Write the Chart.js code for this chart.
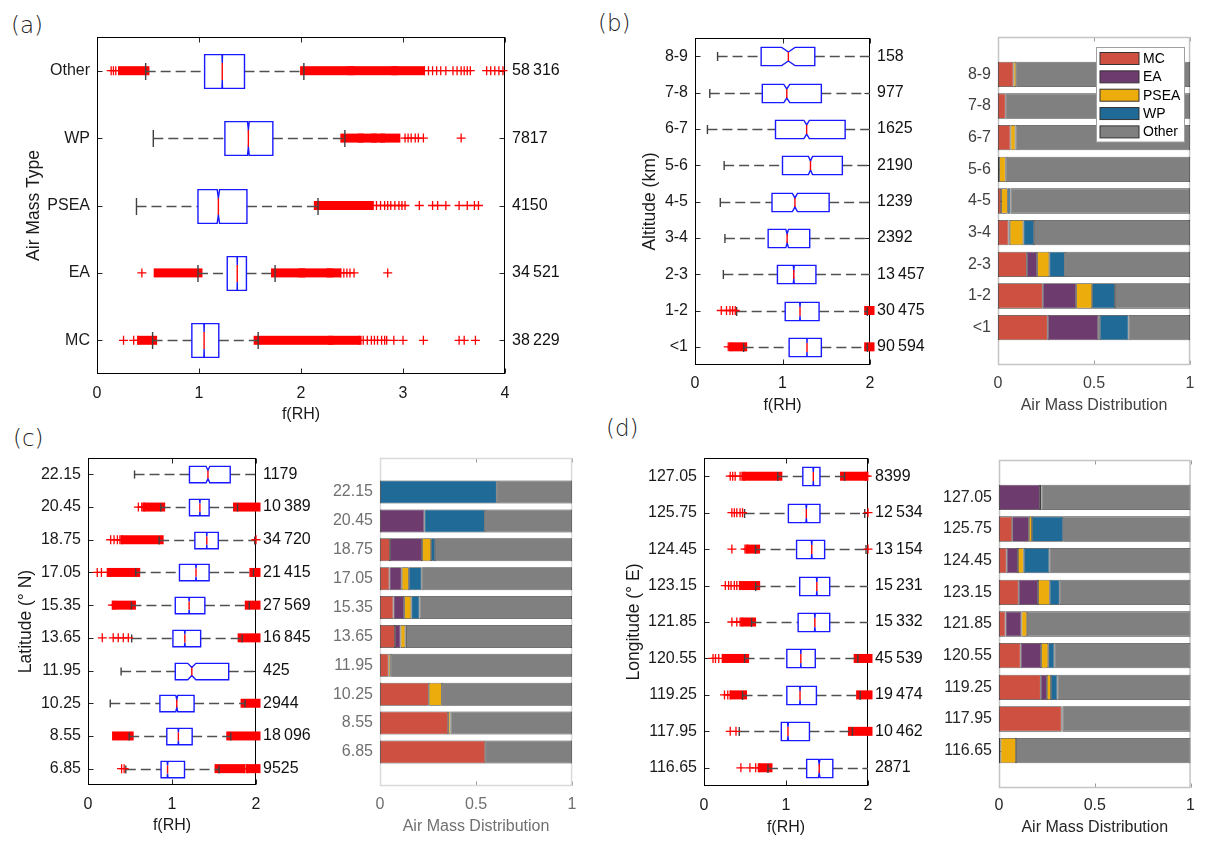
<!DOCTYPE html>
<html><head><meta charset="utf-8">
<script src="https://cdn.jsdelivr.net/npm/chart.js@4.4.1/dist/chart.umd.min.js"></script>
<style>
html,body{margin:0;padding:0;background:#fff;}
#fig{position:relative;width:1210px;height:848px;overflow:hidden;background:#fff;}
.plbl{position:absolute;font-family:'DejaVu Sans',sans-serif;font-weight:200;font-size:23px;line-height:24px;color:#222;}
</style></head><body>
<div id="fig">
<div class="plbl" style="left:11px;top:13px">(a)</div>
<div class="plbl" style="left:598px;top:11px">(b)</div>
<div class="plbl" style="left:13px;top:426px">(c)</div>
<div class="plbl" style="left:606px;top:416px">(d)</div>
</div>
<script>
// ---------------- DATA ----------------
// (a) f(RH) by air mass type (rows top to bottom)
const aTypes = ['Other', 'WP', 'PSEA', 'EA', 'MC'];
const aN     = [58316, 7817, 4150, 34521, 38229];
const aWLo   = [0.477, 0.552, 0.387, 0.990, 0.545];
const aQ1    = [1.055, 1.254, 0.990, 1.277, 0.930];
const aMed   = [1.228, 1.484, 1.190, 1.375, 1.050];
const aQ3    = [1.446, 1.724, 1.470, 1.465, 1.194];
const aWHi   = [2.028, 2.430, 2.167, 1.746, 1.580];
const aOutPts = [
  [0,0.139],[0,0.161],[0,0.184],[0,3.21],[0,3.25],[0,3.29],[0,3.33],[0,3.37],[0,3.42],[0,3.49],[0,3.53],[0,3.57],[0,3.60],[0,3.63],[0,3.66],[0,3.82],[0,3.86],[0,3.90],[0,3.94],[0,3.98],
  [1,3.02],[1,3.05],[1,3.08],[1,3.12],[1,3.15],[1,3.20],[1,3.57],
  [2,2.74],[2,2.78],[2,2.82],[2,2.85],[2,2.88],[2,2.92],[2,2.96],[2,2.99],[2,3.02],[2,3.16],[2,3.29],[2,3.34],[2,3.42],[2,3.55],[2,3.63],[2,3.70],[2,3.74],
  [3,0.44],[3,2.39],[3,2.42],[3,2.45],[3,2.48],[3,2.52],[3,2.85],
  [4,0.26],[4,0.36],[4,0.40],[4,2.57],[4,2.61],[4,2.65],[4,2.69],[4,2.72],[4,2.75],[4,2.79],[4,2.82],[4,2.84],[4,2.91],[4,3.00],[4,3.20],[4,3.55],[4,3.60],[4,3.71]
];
const aOutBands = [
  [0,0.25,0.47],[0,2.035,2.48],[0,2.50,2.91],[0,2.93,3.17],
  [1,2.43,2.57],[1,2.60,2.70],[1,2.73,2.78],[1,2.82,2.93],
  [2,2.17,2.35],[2,2.37,2.46],[2,2.48,2.55],[2,2.57,2.67],
  [3,0.60,0.99],[3,1.75,2.00],[3,2.02,2.27],[3,2.29,2.35],
  [4,0.44,0.545],[4,1.58,2.27],[4,2.31,2.55]
];

// (b) altitude
const bAlt  = ['8-9', '7-8', '6-7', '5-6', '4-5', '3-4', '2-3', '1-2', '<1'];
const bN    = [158, 977, 1625, 2190, 1239, 2392, 13457, 30475, 90594];
const bWLo  = [0.258, 0.169, 0.142, 0.333, 0.289, 0.342, 0.324, 0.476, 0.556];
const bQ1   = [0.756, 0.769, 0.920, 1.000, 0.880, 0.836, 0.942, 1.031, 1.076];
const bMed  = [1.067, 1.049, 1.276, 1.320, 1.142, 1.053, 1.129, 1.200, 1.280];
const bQ3   = [1.369, 1.444, 1.716, 1.684, 1.533, 1.311, 1.382, 1.418, 1.444];
const bWHi  = [2.10, 2.10, 2.10, 2.10, 2.10, 2.10, 2.10, 1.97, 1.97];
const bOutPts = [[7,0.30],[7,0.36],[7,0.40],[7,0.43],[7,0.46],[8,0.38],[8,0.42]];
const bOutBands = [[7,1.985,2.0],[8,0.44,0.545],[8,1.985,2.0]];
const bMC    = [0.081, 0.040, 0.065, 0.006, 0.016, 0.055, 0.150, 0.233, 0.259];
const bEA    = [0, 0, 0, 0, 0, 0.006, 0.054, 0.174, 0.263];
const bPSEA  = [0.014, 0, 0.026, 0.034, 0.035, 0.071, 0.063, 0.083, 0.008];
const bWP    = [0, 0, 0, 0, 0.014, 0.056, 0.081, 0.119, 0.150];
const bOther = [0.905, 0.960, 0.909, 0.960, 0.935, 0.812, 0.652, 0.391, 0.320];

// (c) latitude
const cLat  = ['22.15', '20.45', '18.75', '17.05', '15.35', '13.65', '11.95', '10.25', '8.55', '6.85'];
const cN    = [1179, 10389, 34720, 21415, 27569, 16845, 425, 2944, 18096, 9525];
const cWLo  = [0.554, 0.865, 0.847, 0.568, 0.517, 0.520, 0.394, 0.265, 0.490, 0.450];
const cQ1   = [1.208, 1.208, 1.272, 1.089, 1.039, 1.011, 1.039, 0.856, 0.938, 0.870];
const cMed  = [1.428, 1.332, 1.414, 1.286, 1.204, 1.153, 1.236, 1.057, 1.076, 0.947];
const cQ3   = [1.693, 1.442, 1.551, 1.442, 1.391, 1.341, 1.675, 1.263, 1.240, 1.149];
const cWHi  = [2.10, 1.780, 1.985, 1.970, 1.920, 1.835, 2.10, 1.870, 1.700, 1.560];
const cOutPts = [
  [1,0.60],[1,0.64],[1,0.67],
  [2,0.27],[2,0.31],[2,0.35],[2,0.38],[2,0.41],[2,2.0],
  [3,0.11],[3,0.16],[3,0.23],[3,0.27],
  [4,0.29],[4,0.32],
  [5,0.17],[5,0.30],[5,0.36],[5,0.42],[5,0.48],
  [9,0.40],[9,0.43],[9,1.86],[9,1.90]
];
const cOutBands = [
  [1,0.70,0.865],[1,1.78,2.0],
  [2,0.44,0.847],
  [3,0.29,0.568],[3,1.975,2.0],
  [4,0.34,0.517],[4,1.92,2.0],
  [5,1.835,2.0],
  [7,1.87,2.0],
  [8,0.34,0.49],[8,1.70,2.0],
  [9,1.56,1.82],[9,1.93,2.0]
];
const cMC    = [0, 0, 0.052, 0.049, 0.070, 0.078, 0.045, 0.254, 0.355, 0.548];
const cEA    = [0, 0.231, 0.167, 0.064, 0.056, 0.029, 0, 0, 0, 0];
const cPSEA  = [0, 0, 0.047, 0.037, 0.037, 0.025, 0.011, 0.068, 0.012, 0];
const cWP    = [0.608, 0.315, 0.021, 0.067, 0.043, 0.004, 0, 0, 0, 0];
const cOther = [0.392, 0.454, 0.713, 0.783, 0.794, 0.864, 0.944, 0.678, 0.633, 0.452];

// (d) longitude
const dLon  = ['127.05', '125.75', '124.45', '123.15', '121.85', '120.55', '119.25', '117.95', '116.65'];
const dN    = [8399, 12534, 13154, 15231, 15332, 45539, 19474, 10462, 2871];
const dWLo  = [0.900, 0.495, 0.629, 0.630, 0.580, 0.495, 0.470, 0.430, 0.780];
const dQ1   = [1.205, 1.029, 1.129, 1.167, 1.148, 1.010, 1.010, 0.943, 1.252];
const dMed  = [1.333, 1.248, 1.314, 1.376, 1.352, 1.181, 1.171, 1.024, 1.405];
const dQ3   = [1.414, 1.414, 1.471, 1.533, 1.533, 1.357, 1.371, 1.286, 1.571];
const dWHi  = [1.714, 1.960, 1.976, 2.10, 2.10, 1.876, 1.905, 1.810, 2.10];
const dOutPts = [
  [0,0.32],[0,0.35],[0,0.38],[0,0.44],[0,0.49],[0,1.97],[0,1.99],
  [1,0.34],[1,0.37],[1,0.40],[1,0.44],[1,0.47],[1,2.0],
  [2,0.34],[2,0.50],[2,0.53],[2,2.0],
  [3,0.26],[3,0.30],[3,0.33],[3,0.37],[3,0.40],[3,0.44],
  [4,0.34],[4,0.40],[4,0.44],[4,0.47],
  [5,0.11],[5,0.14],[5,0.18],
  [6,0.25],[6,0.29],[6,0.32],
  [7,0.32],[7,0.39],
  [8,0.45],[8,0.56],[8,0.63],[8,0.68]
];
const dOutBands = [
  [0,0.51,0.90],[0,1.714,1.95],
  [2,0.56,0.629],
  [3,0.48,0.63],
  [4,0.50,0.58],
  [5,0.27,0.495],[5,1.88,2.0],
  [6,0.37,0.47],[6,1.91,2.0],
  [7,1.81,2.0],
  [8,0.71,0.78]
];
const dMC    = [0, 0.069, 0.040, 0.103, 0.034, 0.113, 0.218, 0.327, 0.008];
const dEA    = [0.214, 0.087, 0.059, 0.101, 0.083, 0.107, 0.032, 0.004, 0];
const dPSEA  = [0.008, 0.016, 0.030, 0.061, 0.030, 0.037, 0.021, 0, 0.081];
const dWP    = [0, 0.163, 0.134, 0.052, 0, 0.032, 0.034, 0, 0];
const dOther = [0.778, 0.665, 0.737, 0.683, 0.853, 0.711, 0.695, 0.669, 0.911];

const massNames  = ['MC', 'EA', 'PSEA', 'WP', 'Other'];
const massColors = ['#CD5040', '#6E3B6E', '#ECAC0C', '#1F6A97', '#808080'];

// ---------------- RENDERING ----------------
Chart.defaults.font.family = "'Liberation Sans', Arial, Helvetica, sans-serif";
Chart.defaults.font.size = 16;
Chart.defaults.color = '#1a1a1a';
const fig = document.getElementById('fig');

function makeCanvas(area, pad) {
  const w = area.r - area.l + pad.l + pad.r;
  const h = area.b - area.t + pad.t + pad.b;
  const c = document.createElement('canvas');
  c.width = w; c.height = h;
  c.style.cssText = `position:absolute;left:${area.l - pad.l}px;top:${area.t - pad.t}px;width:${w}px;height:${h}px;`;
  fig.appendChild(c);
  return c;
}
function fmtN(n) {
  const s = String(n);
  return n >= 10000 ? s.slice(0, -3) + '\u2009' + s.slice(-3) : s;
}

const framePlugin = {
  id: 'frame',
  beforeDatasetsDraw(chart, args, o) {
    const {ctx, chartArea: ca, scales: {x, y}} = chart;
    const L = ca.left + 0.5, R = ca.right - 0.5, T = ca.top + 0.5, B = ca.bottom - 0.5;
    ctx.save();
    ctx.strokeStyle = o.tick; ctx.lineWidth = 1;
    ctx.beginPath();
    x.ticks.forEach(t => {
      const p = Math.round(x.getPixelForValue(t.value)) + 0.5;
      ctx.moveTo(p, B); ctx.lineTo(p, B - o.len);
      ctx.moveTo(p, T); ctx.lineTo(p, T + o.len);
    });
    y.ticks.forEach(t => {
      const p = Math.round(y.getPixelForValue(t.value)) + 0.5;
      ctx.moveTo(L, p); ctx.lineTo(L + o.len, p);
      ctx.moveTo(R, p); ctx.lineTo(R - o.len, p);
    });
    ctx.stroke();
    ctx.strokeStyle = o.color; ctx.lineWidth = o.width;
    ctx.strokeRect(L, T, R - L, B - T);
    ctx.restore();
  }
};

const boxPlugin = {
  id: 'boxes',
  beforeDatasetsDraw(chart, args, o) {
    if (!o || !o.q1) return;
    const {ctx, chartArea: ca, scales: {x, y}} = chart;
    const band = Math.abs(y.getPixelForValue(1) - y.getPixelForValue(0));
    const h = band * 0.5;
    const X = v => x.getPixelForValue(v);
    ctx.save();
    ctx.fillStyle = '#ff0000';
    o.bands.forEach(([r, lo, hi]) => {
      const yc = y.getPixelForValue(r);
      ctx.fillRect(X(lo) - 4.5, yc - 4.5, X(hi) - X(lo) + 9, 9);
    });
    o.q1.forEach((q1, i) => {
      const yc = Math.round(y.getPixelForValue(i)) + 0.5;
      const med = o.med[i], q3 = o.q3[i], lo = o.wlo[i], hi = o.whi[i];
      ctx.save();
      ctx.beginPath(); ctx.rect(ca.left, ca.top, ca.width, ca.height); ctx.clip();
      ctx.strokeStyle = '#505050'; ctx.lineWidth = 1.4; ctx.setLineDash([10, 5]);
      ctx.beginPath();
      ctx.moveTo(X(lo), yc); ctx.lineTo(X(q1), yc);
      ctx.moveTo(X(q3), yc); ctx.lineTo(X(hi), yc);
      ctx.stroke();
      ctx.restore();
      ctx.setLineDash([]);
      ctx.strokeStyle = '#404040'; ctx.lineWidth = 1.4;
      ctx.beginPath();
      [lo, hi].forEach(v => {
        if (v <= x.max) { const p = X(v); ctx.moveTo(p, yc - h / 4); ctx.lineTo(p, yc + h / 4); }
      });
      ctx.stroke();
      const nh = 1.57 * (q3 - q1) / Math.sqrt(o.n[i]);
      const t = yc - h / 2, b = yc + h / 2, ni = h / 4;
      ctx.strokeStyle = 'rgb(25,25,255)'; ctx.lineWidth = 1.4; ctx.lineJoin = 'miter';
      ctx.beginPath();
      ctx.moveTo(X(q1), t); ctx.lineTo(X(med - nh), t); ctx.lineTo(X(med), t + ni);
      ctx.lineTo(X(med + nh), t); ctx.lineTo(X(q3), t); ctx.lineTo(X(q3), b);
      ctx.lineTo(X(med + nh), b); ctx.lineTo(X(med), b - ni); ctx.lineTo(X(med - nh), b);
      ctx.lineTo(X(q1), b); ctx.closePath();
      ctx.stroke();
      ctx.strokeStyle = '#ff0000'; ctx.lineWidth = 1.4;
      ctx.beginPath(); ctx.moveTo(X(med), t + ni); ctx.lineTo(X(med), b - ni); ctx.stroke();
    });
    ctx.restore();
  }
};

const legendPlugin = {
  id: 'inLegend',
  afterDatasetsDraw(chart, args, o) {
    if (!o || !o.show) return;
    const {ctx, chartArea: ca} = chart;
    const L = Math.round(ca.left + o.dx) + 0.5, T = Math.round(ca.top + o.dy) + 0.5;
    ctx.save();
    ctx.fillStyle = '#fff'; ctx.strokeStyle = '#a0a0a0'; ctx.lineWidth = 1;
    ctx.fillRect(L, T, o.w, o.h); ctx.strokeRect(L, T, o.w, o.h);
    ctx.font = "14px 'Liberation Sans', Arial, sans-serif";
    ctx.textBaseline = 'middle'; ctx.textAlign = 'left';
    massNames.forEach((nm, i) => {
      const yc = T + 11 + i * 18.35;
      ctx.fillStyle = massColors[i];
      ctx.fillRect(L + 3.5, yc - 6, 39, 12);
      ctx.strokeStyle = '#333'; ctx.strokeRect(L + 3.5, yc - 6, 39, 12);
      ctx.fillStyle = '#000';
      ctx.fillText(nm, L + 46.5, yc + 0.5);
    });
    ctx.restore();
  }
};

function boxChart(cfg) {
  const canvas = makeCanvas(cfg.area, cfg.pad);
  const pts = cfg.outPts.map(([r, v]) => ({x: v, y: cfg.cats[r]}));
  return new Chart(canvas, {
    type: 'scatter',
    data: {datasets: [{
      data: pts, pointStyle: 'cross', pointRadius: 4.5, pointHoverRadius: 4.5,
      pointBorderColor: '#ff0000', pointBackgroundColor: '#ff0000', pointBorderWidth: 1.3, clip: false
    }]},
    options: {
      responsive: false, animation: false, events: [],
      layout: {padding: {top: cfg.pad.t, left: 0, right: 0, bottom: 0}},
      plugins: {
        legend: {display: false}, tooltip: {enabled: false},
        frame: {color: '#000', width: 1, tick: '#262626', len: 5},
        boxes: {q1: cfg.q1, med: cfg.med, q3: cfg.q3, wlo: cfg.wlo, whi: cfg.whi, n: cfg.n, bands: cfg.outBands}
      },
      scales: {
        x: {
          type: 'linear', min: 0, max: cfg.xmax,
          ticks: {stepSize: 1, padding: cfg.xtickPad, color: '#1a1a1a'},
          grid: {display: false, drawTicks: false, tickLength: 0}, border: {display: false},
          title: {display: true, text: 'f(RH)', font: {size: 16}, color: '#1a1a1a', padding: 0},
          afterFit(s) { s.height = cfg.pad.b; }
        },
        y: {
          type: 'category', labels: cfg.cats, offset: true,
          ticks: {autoSkip: false, padding: 7, color: '#1a1a1a'},
          grid: {display: false, drawTicks: false, tickLength: 0}, border: {display: false},
          title: {display: true, text: cfg.ytitle, font: {size: 17.5}, color: '#1a1a1a', padding: 0},
          afterFit(s) { s.width = cfg.pad.l; }
        },
        y2: {
          type: 'category', labels: cfg.n.map(fmtN), offset: true, position: 'right',
          ticks: {autoSkip: false, padding: 7, color: '#111', font: {size: 16}},
          grid: {display: false, drawTicks: false, tickLength: 0}, border: {display: false},
          afterFit(s) { s.width = cfg.pad.r; }
        }
      }
    },
    plugins: [framePlugin, boxPlugin]
  });
}

function barChart(cfg) {
  const canvas = makeCanvas(cfg.area, cfg.pad);
  const N = cfg.cats.length;
  const starts = cfg.cats.map(() => 0);
  const datasets = cfg.series.map((vals, k) => {
    const data = [];
    vals.forEach((v, i) => {
      if (v > 0) data.push({y: i + 1, x: [starts[i], starts[i] + v]});
      starts[i] += v;
    });
    return {
      label: massNames[k], data, backgroundColor: massColors[k],
      borderColor: 'rgba(30,30,30,0.85)', borderWidth: 0.8, borderSkipped: false,
      grouped: false, barPercentage: 0.8, categoryPercentage: 1
    };
  });
  return new Chart(canvas, {
    type: 'bar',
    data: {datasets},
    options: {
      indexAxis: 'y', responsive: false, animation: false, events: [],
      layout: {padding: {top: cfg.pad.t, left: 0, right: 0, bottom: 0}},
      plugins: {
        legend: {display: false}, tooltip: {enabled: false},
        frame: {color: cfg.frameColor, width: 1.5, tick: '#9a9a9a', len: 4},
        inLegend: cfg.legend || {show: false}
      },
      scales: {
        x: {
          type: 'linear', min: 0, max: 1,
          ticks: {stepSize: 0.5, padding: cfg.xtickPad, color: cfg.textColor, callback: v => String(v)},
          grid: {display: false, drawTicks: false, tickLength: 0}, border: {display: false},
          title: {display: true, text: 'Air Mass Distribution', font: {size: 16}, color: cfg.textColor, padding: 0},
          afterFit(s) { s.height = cfg.pad.b; }
        },
        y: {
          type: 'linear', min: -0.18, max: N + 1.18, reverse: true, offset: false,
          afterBuildTicks(s) { s.ticks = cfg.cats.map((_, i) => ({value: i + 1})); },
          ticks: {autoSkip: false, padding: 7, color: cfg.textColor, callback: v => cfg.cats[v - 1]},
          grid: {display: false, drawTicks: false, tickLength: 0, offset: false}, border: {display: false},
          afterFit(s) { s.width = cfg.pad.l; }
        }
      }
    },
    plugins: [framePlugin, legendPlugin]
  });
}

// (a)
boxChart({area: {l: 97, t: 37, r: 505, b: 374}, pad: {l: 73, r: 62, t: 22, b: 50}, xtickPad: 10,
  cats: aTypes, n: aN, wlo: aWLo, q1: aQ1, med: aMed, q3: aQ3, whi: aWHi,
  outPts: aOutPts, outBands: aOutBands, xmax: 4, ytitle: 'Air Mass Type'});
// (b)
boxChart({area: {l: 695, t: 38, r: 870, b: 365}, pad: {l: 55, r: 62, t: 22, b: 50}, xtickPad: 8.5,
  cats: bAlt, n: bN, wlo: bWLo, q1: bQ1, med: bMed, q3: bQ3, whi: bWHi,
  outPts: bOutPts, outBands: bOutBands, xmax: 2, ytitle: 'Altitude (km)'});
barChart({area: {l: 998, t: 37, r: 1195, b: 365}, pad: {l: 52, r: 8, t: 22, b: 50}, xtickPad: 8.5,
  cats: bAlt, series: [bMC, bEA, bPSEA, bWP, bOther], frameColor: '#c4c4c4', textColor: '#404040',
  legend: {show: true, dx: 98, dy: 10, w: 88, h: 94.5}});
// (c)
boxChart({area: {l: 88, t: 458, r: 256, b: 785}, pad: {l: 72, r: 62, t: 22, b: 50}, xtickPad: 9.5,
  cats: cLat, n: cN, wlo: cWLo, q1: cQ1, med: cMed, q3: cQ3, whi: cWHi,
  outPts: cOutPts, outBands: cOutBands, xmax: 2, ytitle: 'Latitude (° N)'});
barChart({area: {l: 380, t: 458, r: 577, b: 786}, pad: {l: 58, r: 8, t: 22, b: 50}, xtickPad: 8.5,
  cats: cLat, series: [cMC, cEA, cPSEA, cWP, cOther], frameColor: '#dadada', textColor: '#707070'});
// (d)
boxChart({area: {l: 704, t: 458, r: 868, b: 786}, pad: {l: 80, r: 62, t: 22, b: 51}, xtickPad: 10,
  cats: dLon, n: dN, wlo: dWLo, q1: dQ1, med: dMed, q3: dQ3, whi: dWHi,
  outPts: dOutPts, outBands: dOutBands, xmax: 2, ytitle: 'Longitude (° E)'});
barChart({area: {l: 999, t: 460, r: 1195, b: 788}, pad: {l: 58, r: 8, t: 22, b: 49}, xtickPad: 8,
  cats: dLon, series: [dMC, dEA, dPSEA, dWP, dOther], frameColor: '#c4c4c4', textColor: '#262626'});
</script>
</body></html>
